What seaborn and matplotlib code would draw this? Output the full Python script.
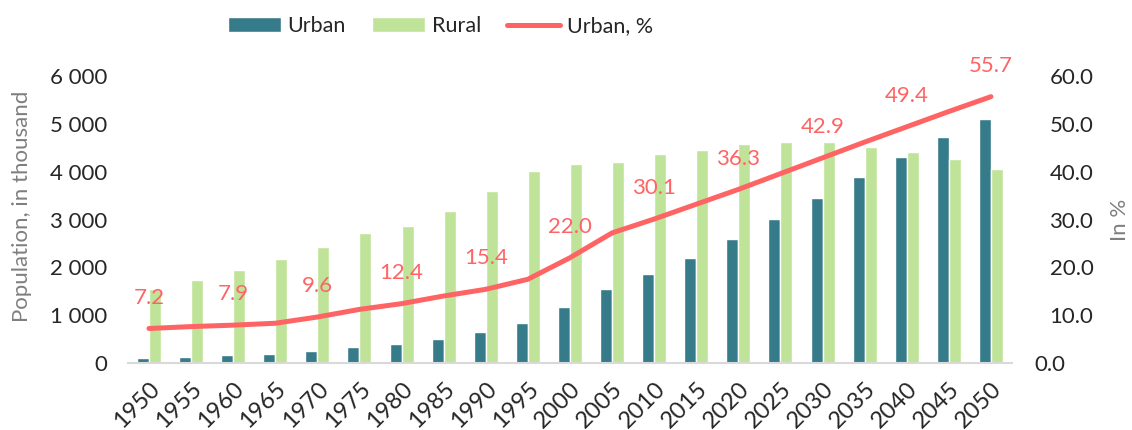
import numpy as np
import pandas as pd
import matplotlib
matplotlib.use("Agg")
import matplotlib.pyplot as plt
from matplotlib.ticker import FuncFormatter, FixedLocator
from matplotlib.lines import Line2D
from matplotlib.patches import Patch
from matplotlib.transforms import ScaledTranslation
import seaborn as sns

years = [1950, 1955, 1960, 1965, 1970, 1975, 1980, 1985, 1990, 1995, 2000,
         2005, 2010, 2015, 2020, 2025, 2030, 2035, 2040, 2045, 2050]
urban = [105, 130, 160, 190, 245, 335, 400, 500, 640, 836, 1170,
         1553, 1866, 2200, 2598, 3010, 3449, 3894, 4318, 4730, 5112]
rural = [1553, 1741, 1950, 2180, 2424, 2717, 2863, 3183, 3601, 4019, 4165,
         4200, 4374, 4464, 4577, 4619, 4612, 4527, 4416, 4270, 4067]
urban_pct = [7.2, 7.6, 7.9, 8.3, 9.6, 11.2, 12.4, 14.0, 15.4, 17.5, 22.0,
             27.2, 30.1, 33.2, 36.3, 39.6, 42.9, 46.2, 49.4, 52.6, 55.7]

C_URBAN = "#367b89"
C_RURAL = "#c0e39a"
C_LINE = "#ff6464"
C_AXIS = "#d9d9d9"
C_LABEL = "#7f7f7f"

sns.set_theme(style="white")
plt.rcParams["font.family"] = ["Lato", "DejaVu Sans"]

df = pd.DataFrame({"year": [str(y) for y in years] * 2,
                   "value": urban + rural,
                   "kind": ["Urban"] * len(years) + ["Rural"] * len(years)})

fig = plt.figure(figsize=(11.32, 4.30), dpi=100)
ax = fig.add_axes([0.113, 0.156, 0.781, 0.667])

sns.barplot(data=df, x="year", y="value", hue="kind", ax=ax,
            palette={"Urban": C_URBAN, "Rural": C_RURAL},
            width=0.57, gap=0, saturation=1, legend=False)
ax.set_xlim(-0.5, len(years) - 0.5)
ax.set_ylim(0, 6000)
ax.set_yticks(range(0, 6001, 1000))
ax.yaxis.set_major_formatter(FuncFormatter(lambda v, p: f"{int(v):,}".replace(",", " ")))
ax.set_xlabel("")
ax.set_ylabel("Population, in thousand", color=C_LABEL, fontsize=16)
ax.yaxis.set_label_coords(-0.109, 0.545)
ax.tick_params(axis="y", labelsize=16, length=0, pad=15)
ax.tick_params(axis="x", labelsize=17, length=0, pad=11)
for lab in ax.get_xticklabels():
    lab.set_rotation(45)
    lab.set_ha("right")
    lab.set_rotation_mode("anchor")
# category boundary tick marks
ax.xaxis.set_minor_locator(FixedLocator(np.arange(-0.5, len(years), 1.0)))
ax.tick_params(axis="x", which="minor", length=6, width=1.2, color=C_AXIS, direction="out")
for s in ["top", "left", "right"]:
    ax.spines[s].set_visible(False)
ax.spines["bottom"].set_color(C_AXIS)
ax.spines["bottom"].set_linewidth(1.5)

ax2 = ax.twinx()
sns.lineplot(x=np.arange(len(years)), y=urban_pct, ax=ax2, color=C_LINE,
             linewidth=3.6, solid_capstyle="round")
ax2.set_ylim(0, 60)
ax2.set_yticks(range(0, 61, 10))
ax2.yaxis.set_major_formatter(FuncFormatter(lambda v, p: f"{v:.1f}"))
ax2.tick_params(axis="y", labelsize=16, length=0, pad=27)
ax2.set_ylabel("In %", color=C_LABEL, fontsize=16)
ax2.yaxis.set_label_coords(1.111, 0.5)
for s in ["top", "left", "right", "bottom"]:
    ax2.spines[s].set_visible(False)
for i in range(0, len(years), 2):
    ax2.annotate(f"{urban_pct[i]:.1f}", (i, urban_pct[i]), xytext=(0, 15),
                 textcoords="offset points", ha="center", va="bottom",
                 color=C_LINE, fontsize=16)

handles = [Patch(facecolor=C_URBAN, label="Urban"),
           Patch(facecolor=C_RURAL, label="Rural"),
           Line2D([0], [0], color=C_LINE, lw=3.6, solid_capstyle="round", label="Urban, %")]
fig.legend(handles=handles, loc="upper center", bbox_to_anchor=(0.389, 1.008), ncol=3,
           frameon=False, fontsize=15.5, handlelength=2.45, handleheight=0.65,
           columnspacing=1.2, handletextpad=0.33)

# Excel draws the "0.0" label on the right axis a bit further left
fig.canvas.draw()
t0 = ax2.yaxis.get_major_ticks()[0].label2
t0.set_transform(t0.get_transform() + ScaledTranslation(-0.15, 0, fig.dpi_scale_trans))

fig.savefig("out.png", dpi=100)
